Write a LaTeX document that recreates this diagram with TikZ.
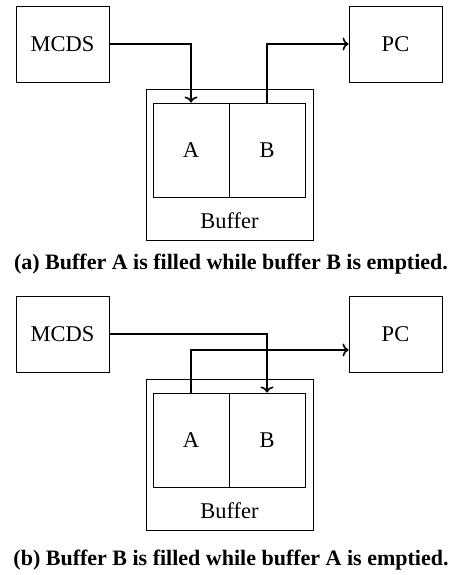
\documentclass[tikz,border=0pt]{standalone}
\usepackage{fontspec}
\setmainfont{Liberation Serif}
\usetikzlibrary{arrows.meta}
\tikzset{
  block/.style={draw, line width=0.9pt, minimum width=93pt, minimum height=76pt, inner sep=0pt,
    font=\fontsize{22.5}{26}\selectfont},
  outerbox/.style={draw, line width=0.9pt, minimum width=167pt, minimum height=151pt, inner sep=0pt},
  cell/.style={draw, line width=0.9pt, minimum width=76pt, minimum height=94pt, inner sep=0pt,
    font=\fontsize{22.5}{26}\selectfont},
  lbl/.style={font=\fontsize{22.5}{26}\selectfont, inner sep=0pt},
  flow/.style={line width=1.8pt, -{To[length=6pt,width=13pt,line width=1.6pt]}},
  caption/.style={font=\fontsize{22}{26}\selectfont\bfseries, inner sep=0pt}
}
\begin{document}
\begin{tikzpicture}[x=1pt,y=-1pt]
\path[use as bounding box] (0,0) rectangle (454,575);

% ---- (a) buffer A filled, buffer B emptied ----
\node[block] (mcdsA) at (62.5,44) {MCDS};
\node[block] (pcA) at (395.5,44) {PC};
\node[outerbox] (bufA) at (229.5,164.5) {};
\node[cell] (cellAa) at (191,150) {A};
\node[cell] (cellBa) at (267,150) {B};
\node[lbl] (bufLblA) at (229.5,221) {Buffer};
\draw[flow] (mcdsA.east) -| (cellAa.north);
\draw[flow] (cellBa.north) |- (pcA.west);
\node[caption] (capA) at (231,264) {(a) Buffer A is filled while buffer B is emptied.};

% ---- (b) buffer B filled, buffer A emptied ----
\node[block] (mcdsB) at (62.5,334) {MCDS};
\node[block] (pcB) at (395.5,334) {PC};
\node[outerbox] (bufB) at (229.5,454.5) {};
\node[cell] (cellAb) at (191,440) {A};
\node[cell] (cellBb) at (267,440) {B};
\node[lbl] (bufLblB) at (229.5,511) {Buffer};
\draw[flow] (cellAb.north) |- ([yshift=-16pt]pcB.west);
\draw[flow] (mcdsB.east) -| (cellBb.north);
\node[caption] (capB) at (231,560) {(b) Buffer B is filled while buffer A is emptied.};
\end{tikzpicture}
\end{document}
